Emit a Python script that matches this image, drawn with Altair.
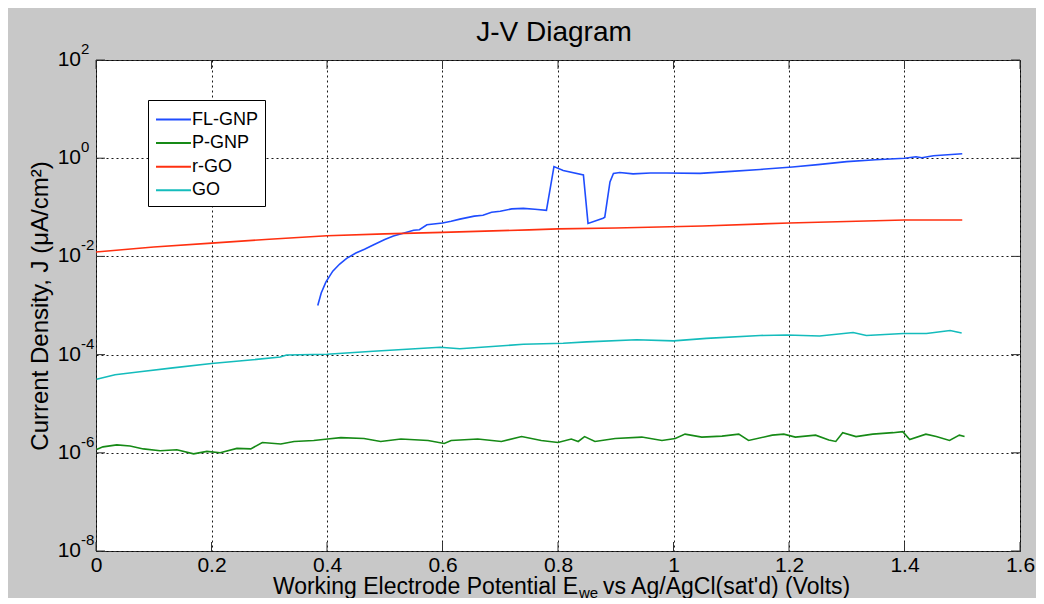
import altair as alt
import pandas as pd

# ---------------- data ----------------
fl_x = [0.384, 0.390, 0.398, 0.410, 0.422, 0.434, 0.450, 0.465, 0.480, 0.500, 0.515,
        0.532, 0.550, 0.560, 0.573, 0.600, 0.615, 0.630, 0.655, 0.670, 0.685, 0.700,
        0.720, 0.740, 0.760, 0.780, 0.793, 0.809, 0.844, 0.852, 0.878, 0.881, 0.890,
        0.896, 0.907, 0.930, 0.960, 0.988, 1.046, 1.100, 1.150, 1.206, 1.250, 1.300,
        1.350, 1.400, 1.420, 1.430, 1.450, 1.500]
fl_j = [1.0e-3, 1.8e-3, 3.0e-3, 5.0e-3, 7.0e-3, 9.1e-3, 1.17e-2, 1.4e-2, 1.7e-2, 2.2e-2, 2.6e-2,
        2.95e-2, 3.4e-2, 3.5e-2, 4.4e-2, 4.8e-2, 5.2e-2, 5.75e-2, 6.6e-2, 6.9e-2, 7.9e-2, 8.3e-2,
        9.3e-2, 9.5e-2, 9.1e-2, 8.7e-2, 0.676, 0.56, 0.457, 4.7e-2, 6.0e-2, 6.3e-2, 0.33,
        0.49, 0.51, 0.48, 0.50, 0.50, 0.49, 0.54, 0.59, 0.66, 0.74, 0.85,
        0.93, 1.0, 1.07, 1.02, 1.12, 1.23]

pg_x = [0.001, 0.012, 0.036, 0.059, 0.082, 0.111, 0.140, 0.169, 0.192, 0.215, 0.244, 0.268,
        0.288, 0.320, 0.343, 0.377, 0.401, 0.424, 0.464, 0.493, 0.528, 0.575, 0.603, 0.615,
        0.661, 0.702, 0.737, 0.771, 0.800, 0.823, 0.835, 0.846, 0.864, 0.899, 0.945, 0.980,
        1.003, 1.020, 1.049, 1.084, 1.113, 1.130, 1.171, 1.191, 1.211, 1.246, 1.269, 1.281,
        1.293, 1.316, 1.345, 1.380, 1.397, 1.409, 1.437, 1.455, 1.478, 1.495, 1.504]
pg_j = [1.17e-6, 1.32e-6, 1.45e-6, 1.38e-6, 1.20e-6, 1.10e-6, 1.15e-6, 0.95e-6, 1.07e-6, 1.00e-6,
        1.23e-6, 1.20e-6, 1.62e-6, 1.51e-6, 1.70e-6, 1.78e-6, 1.91e-6, 2.04e-6, 1.95e-6, 1.70e-6,
        1.91e-6, 1.78e-6, 1.55e-6, 1.78e-6, 1.91e-6, 1.70e-6, 2.14e-6, 1.78e-6, 1.62e-6, 1.91e-6,
        1.70e-6, 2.14e-6, 1.70e-6, 1.95e-6, 2.09e-6, 1.78e-6, 1.95e-6, 2.40e-6, 2.09e-6, 2.19e-6,
        2.40e-6, 1.78e-6, 2.29e-6, 2.40e-6, 2.09e-6, 2.29e-6, 1.82e-6, 1.70e-6, 2.57e-6, 2.14e-6,
        2.40e-6, 2.57e-6, 2.69e-6, 1.86e-6, 2.40e-6, 2.14e-6, 1.78e-6, 2.29e-6, 2.14e-6]

rg_x = [0.0, 0.1, 0.2, 0.3, 0.4, 0.5, 0.6, 0.75, 0.8, 0.9, 1.05, 1.2, 1.3, 1.4, 1.5]
rg_j = [1.23e-2, 1.55e-2, 1.86e-2, 2.24e-2, 2.63e-2, 2.88e-2, 3.09e-2, 3.47e-2, 3.63e-2,
        3.8e-2, 4.17e-2, 4.79e-2, 5.13e-2, 5.5e-2, 5.5e-2]

go_x = [0.001, 0.033, 0.076, 0.133, 0.200, 0.267, 0.319, 0.330, 0.400, 0.480, 0.596, 0.630,
        0.740, 0.809, 0.850, 0.936, 1.000, 1.057, 1.150, 1.196, 1.253, 1.311, 1.334, 1.398,
        1.438, 1.479, 1.499]
go_j = [3.16e-5, 3.9e-5, 4.47e-5, 5.37e-5, 6.6e-5, 7.76e-5, 8.9e-5, 9.8e-5, 1.02e-4, 1.17e-4,
        1.41e-4, 1.32e-4, 1.62e-4, 1.70e-4, 1.82e-4, 2.0e-4, 1.9e-4, 2.14e-4, 2.45e-4, 2.51e-4,
        2.4e-4, 2.82e-4, 2.45e-4, 2.69e-4, 2.69e-4, 3.09e-4, 2.75e-4]

series_names = ["FL-GNP", "P-GNP", "r-GO", "GO"]
series_colors = ["#1f4dff", "#168a16", "#ff3010", "#14bcbc"]

x_ticks = [0, 0.2, 0.4, 0.6, 0.8, 1.0, 1.2, 1.4, 1.6]
y_ticks = [1e-8, 1e-6, 1e-4, 1e-2, 1e0, 1e2]
y_exps = ["-8", "-6", "-4", "-2", "0", "2"]

title_text = "J-V Diagram"
y_title = "Current Density, J (\u03bcA/cm\u00b2)"
x_title_a = "Working Electrode Potential E"
x_title_sub = "we"
x_title_b = "vs Ag/AgCl(sat'd) (Volts)"

FONT = "Liberation Sans"
W, H = 924, 491

# ---------------- tables ----------------
frames = []
for name, xs, js in zip(series_names, [fl_x, pg_x, rg_x, go_x], [fl_j, pg_j, rg_j, go_j]):
    frames.append(pd.DataFrame({"x": xs, "j": js, "series": name}))
lines_df = pd.concat(frames, ignore_index=True)

xt_df = pd.DataFrame({"x": x_ticks})
yt_df = pd.DataFrame({"j": y_ticks, "base": ["10"] * len(y_ticks), "exp": y_exps})

x_scale = alt.Scale(domain=[0, 1.6], nice=False, zero=False)
y_scale = alt.Scale(type="log", domain=[1e-8, 1e2], nice=False)

x_axis = alt.Axis(values=x_ticks, format="~g", grid=True, gridDash=[2, 3], gridColor="#000000",
                  gridOpacity=0.9, ticks=False, domain=False, labelFontSize=21, labelFont=FONT,
                  labelColor="#000000", labelPadding=3, labelFlush=False, title=None)
y_axis = alt.Axis(values=y_ticks, grid=True, gridDash=[2, 3], gridColor="#000000",
                  gridOpacity=0.9, ticks=False, domain=False, labels=False, title=y_title,
                  titleFontSize=24, titleFont=FONT, titleFontWeight="normal", titleColor="#000000",
                  titlePadding=44)

X = alt.X("x:Q", scale=x_scale, axis=x_axis)
Y = alt.Y("j:Q", scale=y_scale, axis=y_axis)

lines = alt.Chart(lines_df).mark_line(strokeWidth=1.6).encode(
    x=X, y=Y,
    color=alt.Color("series:N", sort=series_names,
                    scale=alt.Scale(domain=series_names, range=series_colors),
                    legend=alt.Legend(orient="none", legendX=52, legendY=40, title=None,
                                      fillColor="white", strokeColor="#000000", padding=6,
                                      symbolType="M-1.4,0H1.4", symbolSize=625,
                                      symbolStrokeWidth=2, symbolOffset=6,
                                      labelFontSize=18, labelFont=FONT, labelColor="#000000",
                                      labelOffset=5, rowPadding=0.6,
                                      labelExpr="datum.label + '        '")),
    detail="series:N",
)

tick_len = 9
x_ticks_bottom = alt.Chart(xt_df).mark_rule(color="#333333", strokeWidth=1).encode(
    x=X, y=alt.value(H), y2=alt.value(H - tick_len))
x_ticks_top = alt.Chart(xt_df).mark_rule(color="#333333", strokeWidth=1).encode(
    x=X, y=alt.value(0), y2=alt.value(tick_len))
y_ticks_left = alt.Chart(yt_df).mark_rule(color="#333333", strokeWidth=1).encode(
    y=Y, x=alt.value(0), x2=alt.value(tick_len))
y_ticks_right = alt.Chart(yt_df).mark_rule(color="#333333", strokeWidth=1).encode(
    y=Y, x=alt.value(W), x2=alt.value(W - tick_len))

y_lab_base = alt.Chart(yt_df).mark_text(align="right", baseline="middle", fontSize=21,
                                        font=FONT, color="#000000").encode(
    y=Y, x=alt.value(-15), text="base:N")
y_lab_exp = alt.Chart(yt_df).mark_text(align="left", baseline="middle", fontSize=15,
                                       font=FONT, color="#000000", dy=-11).encode(
    y=Y, x=alt.value(-15), text="exp:N")

tt_df = pd.DataFrame({"t": [title_text]})
title_mark = alt.Chart(tt_df).mark_text(align="center", baseline="alphabetic", fontSize=28,
                                        font=FONT, color="#000000").encode(
    x=alt.value(W / 2 - 4), y=alt.value(-19), text="t:N")

xa_df = pd.DataFrame({"t": [x_title_a]})
xs_df = pd.DataFrame({"t": [x_title_sub]})
xb_df = pd.DataFrame({"t": [x_title_b]})
xt_a = alt.Chart(xa_df).mark_text(align="right", baseline="alphabetic", fontSize=23, font=FONT,
                                  color="#000000").encode(
    x=alt.value(482), y=alt.value(534), text="t:N")
xt_s = alt.Chart(xs_df).mark_text(align="left", baseline="alphabetic", fontSize=15, font=FONT,
                                  color="#000000").encode(
    x=alt.value(483), y=alt.value(538), text="t:N")
xt_b = alt.Chart(xb_df).mark_text(align="left", baseline="alphabetic", fontSize=23, font=FONT,
                                  color="#000000").encode(
    x=alt.value(507), y=alt.value(534), text="t:N")

chart = alt.layer(
    lines, x_ticks_bottom, x_ticks_top, y_ticks_left, y_ticks_right,
    y_lab_base, y_lab_exp, title_mark, xt_a, xt_s, xt_b,
).properties(
    width=W, height=H,
    autosize=alt.AutoSizeParams(type="none"),
    padding={"left": 88, "top": 52, "right": 16, "bottom": 47},
).configure(
    background="#c8c8c8",
).configure_view(
    fill="white", stroke="#333333", strokeWidth=1,
)

chart.save("out.html", embed_options={"renderer": "svg", "actions": False})
